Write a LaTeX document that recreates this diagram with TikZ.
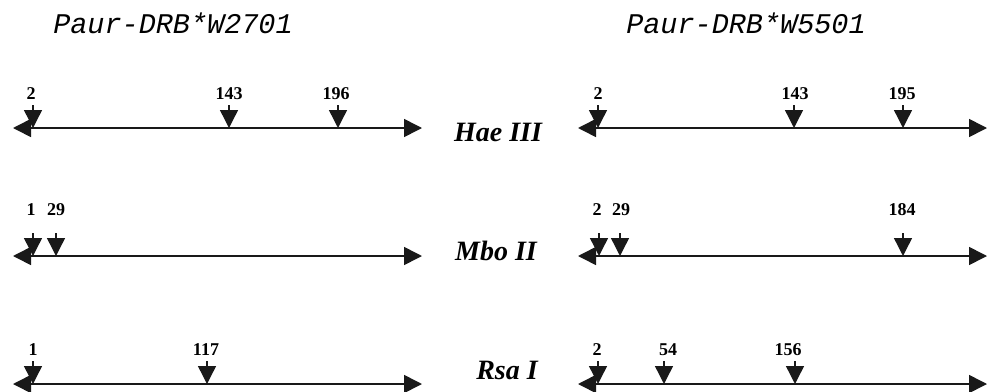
\documentclass[tikz,border=0pt]{standalone}
\usepackage{fontspec}
\setmainfont{Liberation Serif}
\newfontfamily\courierFont{Liberation Mono}
\usetikzlibrary{arrows.meta, positioning}
\newcommand{\CutSite}[6]{
    \coordinate (#1top) at (#2, #3-23);
    \coordinate (#1cut) at (#2, #3);
    \draw[siteArrow] (#1top) -- (#1cut);
    \node[siteNum] (#1) at (#5, #6) {#4};
}
\tikzset{
    % Common
    dnaLine/.style={{Triangle[length=18pt,width=18pt]}-{Triangle[length=18pt,width=18pt]}, line width=1.6pt, draw=black!90},
    siteArrow/.style={-{Triangle[length=18pt,width=18pt]}, line width=1.4pt, draw=black!90},
    siteNum/.style={inner sep=0pt, font=\fontsize{18}{20}\selectfont\bfseries},
    enzymeName/.style={inner sep=0pt, font=\fontsize{28}{30}\selectfont\bfseries\itshape},
    alleleName/.style={inner sep=0pt, font=\fontsize{28.5}{30}\selectfont\courierFont\itshape}
}
\begin{document}
\begin{tikzpicture}[x=1pt, y=-1pt]
    \useasboundingbox (0,0) rectangle (990,391);

    % Allele titles
    \node[alleleName] (titleA) at (173, 23) {Paur-DRB*W2701};
    \node[alleleName] (titleB) at (746, 23) {Paur-DRB*W5501};

    % Enzymes
    \node[enzymeName] (hae) at (498, 132) {Hae III};
    \node[enzymeName] (mbo) at (496, 251) {Mbo II};
    \node[enzymeName] (rsa) at (507, 370) {Rsa I};

    % Fragment lines
    \coordinate (haeAs) at (13, 128);  \coordinate (haeAe) at (422, 128);
    \coordinate (mboAs) at (13, 256);  \coordinate (mboAe) at (422, 256);
    \coordinate (rsaAs) at (13, 384);  \coordinate (rsaAe) at (422, 384);
    \coordinate (haeBs) at (578, 128); \coordinate (haeBe) at (987, 128);
    \coordinate (mboBs) at (578, 256); \coordinate (mboBe) at (987, 256);
    \coordinate (rsaBs) at (578, 384); \coordinate (rsaBe) at (987, 384);
    \foreach \ln in {haeA, mboA, rsaA, haeB, mboB, rsaB}
        \draw[dnaLine] (\ln s) -- (\ln e);

    % Cut sites, W2701
    \CutSite{haeAa}{33}{128}{2}{31}{94}
    \CutSite{haeAb}{229}{128}{143}{229}{94}
    \CutSite{haeAc}{338}{128}{196}{336}{94}
    \CutSite{mboAa}{33}{256}{1}{31}{210}
    \CutSite{mboAb}{56}{256}{29}{56}{210}
    \CutSite{rsaAa}{33}{384}{1}{33}{350}
    \CutSite{rsaAb}{207}{384}{117}{206}{350}

    % Cut sites, W5501
    \CutSite{haeBa}{598}{128}{2}{598}{94}
    \CutSite{haeBb}{794}{128}{143}{795}{94}
    \CutSite{haeBc}{903}{128}{195}{902}{94}
    \CutSite{mboBa}{599}{256}{2}{597}{210}
    \CutSite{mboBb}{620}{256}{29}{621}{210}
    \CutSite{mboBc}{903}{256}{184}{902}{210}
    \CutSite{rsaBa}{598}{384}{2}{597}{350}
    \CutSite{rsaBb}{664}{384}{54}{668}{350}
    \CutSite{rsaBc}{795}{384}{156}{788}{350}
\end{tikzpicture}
\end{document}
